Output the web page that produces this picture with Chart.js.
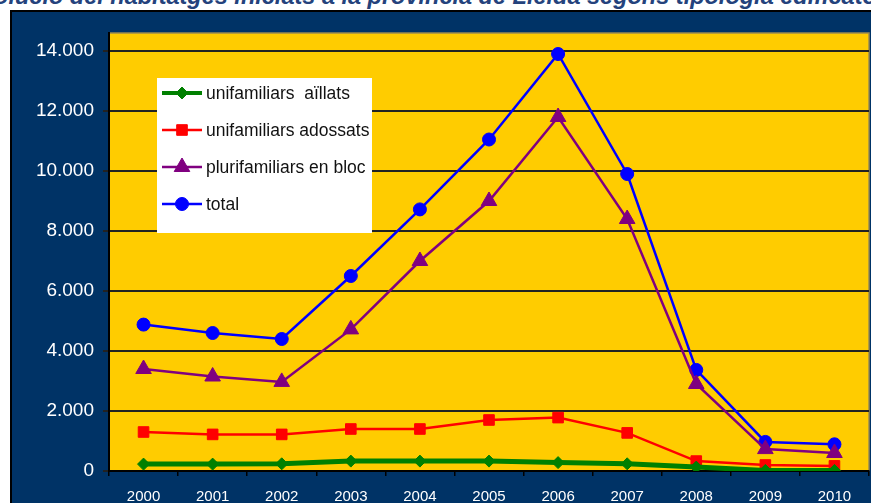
<!DOCTYPE html>
<html>
<head>
<meta charset="utf-8">
<script src="https://cdn.jsdelivr.net/npm/chart.js@4"></script>
<style>
  html, body { margin: 0; padding: 0; background: #fff; overflow: hidden; }
  #wrap { position: relative; width: 871px; height: 503px; }
  #title {
    position: absolute; left: -200px; width: 1271px; top: -17px;
    text-align: center; white-space: nowrap;
    font: italic bold 23.5px Arial, "Liberation Sans", sans-serif; color: #24427c;
  }
  canvas { position: absolute; left: 0; top: 0; }
</style>
</head>
<body>
<div id="wrap">
  <div id="title">Evolució del habitatges iniciats a la província de Lleida segons tipologia edificatòria</div>
  <canvas id="chart" width="871" height="503"></canvas>
</div>
<script>
const years = ['2000', '2001', '2002', '2003', '2004', '2005', '2006', '2007', '2008', '2009', '2010'];
const aillats = [230, 230, 240, 330, 330, 330, 280, 240, 130, 20, 20];
const adossats = [1300, 1220, 1220, 1400, 1400, 1700, 1780, 1270, 330, 200, 170];
const bloc = [3400, 3150, 2970, 4720, 7000, 9000, 11800, 8400, 2900, 730, 600];
const total = [4880, 4600, 4400, 6500, 8720, 11050, 13900, 9900, 3370, 970, 890];
const yTicks = [0, 2000, 4000, 6000, 8000, 10000, 12000, 14000];

const fmt = v => v.toLocaleString('de-DE');

// navy background + yellow plot area
const backgroundPlugin = {
  id: 'background',
  beforeDraw(chart) {
    const { ctx, chartArea: a } = chart;
    ctx.save();
    ctx.fillStyle = '#003366';
    ctx.fillRect(10, 10, 861, 493);
    ctx.strokeStyle = '#000';
    ctx.lineWidth = 2;
    ctx.beginPath();
    ctx.moveTo(11, 503);
    ctx.lineTo(11, 11);
    ctx.lineTo(871, 11);
    ctx.stroke();
    ctx.fillStyle = '#FFCC00';
    ctx.fillRect(a.left, a.top, a.right - a.left, a.bottom - a.top);
    ctx.strokeStyle = '#9a8a50';
    ctx.lineWidth = 1.5;
    ctx.beginPath();
    ctx.moveTo(a.left, a.top);
    ctx.lineTo(a.right, a.top);
    ctx.lineTo(a.right, a.bottom);
    ctx.stroke();
    ctx.restore();
  }
};

// legend box inside the plot area
const boxLegend = {
  id: 'boxLegend',
  afterDraw(chart) {
    const { ctx } = chart;
    const x0 = 157, y0 = 78, w = 215, h = 155;
    ctx.save();
    ctx.fillStyle = '#fff';
    ctx.fillRect(x0, y0, w, h);
    ctx.font = '17.5px Arial, "Liberation Sans", sans-serif';
    ctx.textBaseline = 'middle';
    chart.data.datasets.forEach((ds, i) => {
      const y = 93 + i * 37;
      ctx.strokeStyle = ds.borderColor;
      ctx.lineWidth = Math.min(ds.borderWidth, 4);
      ctx.beginPath();
      ctx.moveTo(162, y);
      ctx.lineTo(202, y);
      ctx.stroke();
      ctx.fillStyle = ds.pointBackgroundColor;
      ctx.strokeStyle = ds.pointBackgroundColor;
      ctx.lineWidth = 1;
      Chart.helpers.drawPoint(ctx, { pointStyle: ds.pointStyle, radius: ds.pointRadius, borderWidth: 1, rotation: 0 }, 182, y);
      ctx.fillStyle = '#111';
      ctx.fillText(ds.label, 206, y + 1);
    });
    ctx.restore();
  }
};

function series(label, data, color, style, radius, width) {
  return {
    label: label,
    data: data,
    borderColor: color,
    backgroundColor: color,
    pointBackgroundColor: color,
    pointBorderColor: color,
    pointStyle: style,
    pointRadius: radius,
    pointBorderWidth: 1,
    borderWidth: width,
    tension: 0
  };
}

new Chart(document.getElementById('chart'), {
  type: 'line',
  data: {
    labels: years,
    datasets: [
      series('unifamiliars  aïllats', aillats, '#008000', 'rectRot', 6, 5),
      series('unifamiliars adossats', adossats, '#FF0000', 'rect', 7.5, 2.5),
      series('plurifamiliars en bloc', bloc, '#800080', 'triangle', 9, 2.5),
      series('total', total, '#0000FF', 'circle', 6.5, 2.5)
    ]
  },
  options: {
    responsive: false,
    animation: false,
    layout: { autoPadding: false, padding: { left: 10, right: 2, top: 33, bottom: 0 } },
    plugins: {
      legend: { display: false },
      tooltip: { enabled: false }
    },
    scales: {
      x: {
        offset: true,
        grid: { offset: true, drawOnChartArea: false, color: '#000', lineWidth: 1.5, tickLength: 5 },
        border: { color: '#000', width: 2 },
        ticks: { color: '#fff', padding: 12, font: { family: 'Arial', size: 15 } },
        afterFit(scale) {
          scale.height = 32;
          scale.paddingLeft = 0;
          scale.paddingRight = 0;
        }
      },
      y: {
        min: 0,
        max: 14600,
        grid: { color: '#222', lineWidth: 2, tickLength: 6 },
        border: { color: '#000', width: 2 },
        ticks: {
          color: '#fff',
          padding: 9,
          font: { family: 'Arial', size: 19 },
          callback: v => fmt(v)
        },
        afterBuildTicks(scale) {
          scale.ticks = yTicks.map(v => ({ value: v }));
        },
        afterFit(scale) {
          scale.width = 99;
          scale.paddingTop = 0;
          scale.paddingBottom = 0;
        }
      }
    }
  },
  plugins: [backgroundPlugin, boxLegend]
});
</script>
</body>
</html>
